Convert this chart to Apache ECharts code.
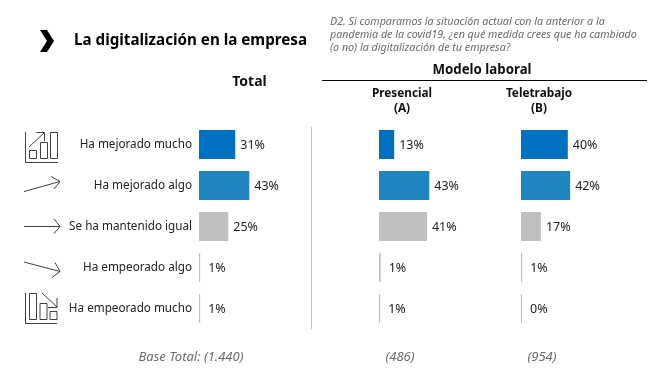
<!DOCTYPE html>
<html>
<head>
<meta charset="utf-8">
<style>
html, body { margin: 0; padding: 0; background: #fff; }
#chart { width: 671px; height: 386px; }
</style>
<script src="https://cdn.jsdelivr.net/npm/echarts@6/dist/echarts.min.js"></script>
</head>
<body>
<div id="chart"></div>
<script>
const categories = ['Ha mejorado mucho', 'Ha mejorado algo', 'Se ha mantenido igual', 'Ha empeorado algo', 'Ha empeorado mucho']
const totalValues = [31, 43, 25, 1, 1]
const presencialValues = [13, 43, 41, 1.4, 1]
const teletrabajoValues = [40, 42, 17, 1, 0]
const barColors = ['#0070C0', '#2086C1', '#BFBFBF', '#BFBFBF', '#BFBFBF']
const panelLefts = [199, 379, 521]
const baseLabels = ['Base Total: (1.440)', '(486)', '(954)']
const questionLines = [
  'D2. Si comparamos la situación actual con la anterior a la',
  'pandemia de la covid19, ¿en qué medida crees que ha cambiado',
  '(o no) la digitalización de tu empresa?',
]

const FONT = 'Noto Sans'
const DARK = '#404040'

const chart = echarts.init(document.getElementById('chart'))

const grids = panelLefts.map((left) => ({ left, top: 124, width: 117, height: 205 }))
const xAxes = panelLefts.map((_, i) => ({
  type: 'value', gridIndex: i, min: 0, max: 100, show: false,
}))
const yAxes = panelLefts.map((_, i) => ({
  type: 'category',
  gridIndex: i,
  data: categories,
  inverse: true,
  axisLine: { show: false },
  axisTick: { show: false },
  splitLine: { show: false },
  axisLabel: {
    show: i === 0,
    margin: 7,
    color: '#222',
    fontSize: 11.7,
    fontFamily: FONT,
  },
}))

const makeSeries = (values, i) => ({
  type: 'bar',
  xAxisIndex: i,
  yAxisIndex: i,
  barWidth: 29,
  barMinHeight: 1,
  silent: true,
  data: values.map((value, j) => ({
    value,
    itemStyle: { color: barColors[j] },
    label: { distance: value < 2 ? 8 : 5 },
  })),
  label: {
    show: true,
    position: 'right',
    offset: [0, 1],
    color: '#222',
    fontSize: 12.5,
    fontFamily: FONT,
    formatter: (p) => Math.round(p.value) + '%',
  },
})

const text = (x, y, str, style) => ({
  type: 'text',
  x,
  y,
  silent: true,
  style: Object.assign({
    text: str, fontFamily: FONT, fill: '#111', align: 'center', verticalAlign: 'middle',
  }, style),
})
const seg = (x1, y1, x2, y2, stroke, lineWidth) => ({
  type: 'line',
  silent: true,
  shape: { x1, y1, x2, y2 },
  style: { stroke: stroke || DARK, lineWidth: lineWidth || 1 },
})
const box = (x, y, width, height) => ({
  type: 'rect',
  silent: true,
  shape: { x, y, width, height },
  style: { stroke: DARK, fill: 'none', lineWidth: 1 },
})
const poly = (points) => ({
  type: 'polyline',
  silent: true,
  shape: { points },
  style: { stroke: DARK, fill: 'none', lineWidth: 1 },
})

const icons = [
  // sube mucho
  seg(25.5, 132, 25.5, 162.5), seg(25, 162.5, 58, 162.5),
  box(29.5, 150.5, 7, 8), box(40.5, 142.5, 7, 16), box(50.5, 132.5, 7, 26),
  seg(29, 147, 44, 133), poly([[36.5, 132.5], [44.5, 132.5], [44.5, 141]]),
  // sube algo
  seg(24, 191.5, 60, 181.5), poly([[51, 176.5], [60, 181.5], [54, 189]]),
  // igual
  seg(24, 226.5, 60, 226.5), poly([[54, 219], [60, 226.5], [54, 233.5]]),
  // baja algo
  seg(24, 262, 60, 271.5), poly([[55, 262.5], [60, 271.5], [52, 277.5]]),
  // baja mucho
  seg(25.5, 293, 25.5, 323.5), seg(25, 323.5, 57, 323.5),
  box(29.5, 293.5, 7, 26), box(40, 303.5, 7, 16), box(50, 311.5, 7, 8),
  seg(42, 293, 57, 307), poly([[48, 307.5], [57, 307.5], [57, 298]]),
]

const option = {
  animation: false,
  backgroundColor: '#fff',
  grid: grids,
  xAxis: xAxes,
  yAxis: yAxes,
  series: [totalValues, presencialValues, teletrabajoValues].map(makeSeries),
  graphic: [
    { type: 'polygon', silent: true, shape: { points: [[40, 30], [47, 30], [54, 41], [47, 52], [40, 52], [47, 41]] }, style: { fill: '#000' } },
    text(74, 41, 'La digitalización en la empresa', { align: 'left', fontSize: 15.2, fontWeight: 'bold', fill: '#000' }),
    ...questionLines.map((line, i) => text(330, 22 + i * 13, line, { align: 'left', fontSize: 10.7, fontStyle: 'italic', fill: '#6b6b6b' })),
    text(249.5, 82, 'Total', { fontSize: 14, fontWeight: 'bold' }),
    text(482, 70, 'Modelo laboral', { fontSize: 13.3, fontWeight: 'bold' }),
    seg(322, 80.5, 647, 80.5, '#000', 1),
    text(402, 94, 'Presencial', { fontSize: 11.8, fontWeight: 'bold' }),
    text(402, 109, '(A)', { fontSize: 11.8, fontWeight: 'bold' }),
    text(539, 94, 'Teletrabajo', { fontSize: 11.8, fontWeight: 'bold' }),
    text(539, 109, '(B)', { fontSize: 11.8, fontWeight: 'bold' }),
    seg(311.5, 127, 311.5, 329, '#BFBFBF', 1),
    ...icons,
    ...[191, 400, 542].map((x, i) => text(x, 357, baseLabels[i], { fontSize: 13, fontStyle: 'italic', fill: '#6b6b6b' })),
  ],
}
chart.setOption(option)
</script>
</body>
</html>
